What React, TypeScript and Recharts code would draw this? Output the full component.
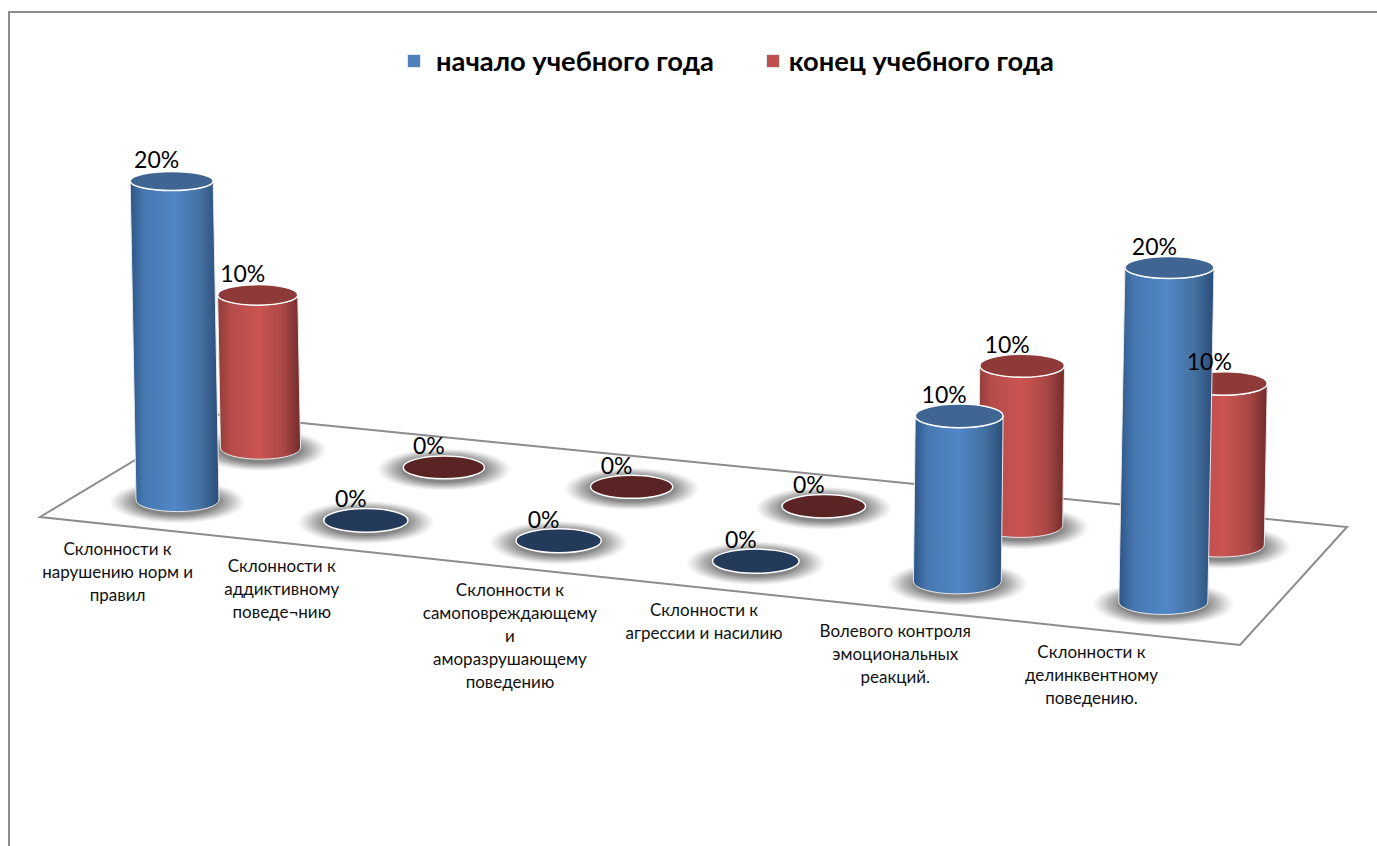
import { BarChart, Bar, XAxis, YAxis, Legend, LabelList, Customized } from "recharts";

const CATEGORIES = [
  "Склонности к\nнарушению норм и\nправил",
  "Склонности к\nаддиктивному\nповеде¬нию",
  "Склонности к\nсамоповреждающему\nи\nаморазрушающему\nповедению",
  "Склонности к\nагрессии и насилию",
  "Волевого контроля\nэмоциональных\nреакций.",
  "Склонности к\nделинквентному\nповедению.",
];
const START_VALUES = [0.2, 0, 0, 0, 0.1, 0.2];
const END_VALUES = [0.1, 0, 0, 0, 0.1, 0.1];
const START_NAME = "начало учебного года";
const END_NAME = "конец учебного года";

const chartData = CATEGORIES.map((name, i) => ({
  name,
  start: START_VALUES[i],
  end: END_VALUES[i],
}));

const FONT = "Lato, 'Open Sans', sans-serif";
const FRAME = "#8c8c8c";

const PALETTE = {
  start: { grad: "cylStart", top: "#3f6592", zero: "#243a5a", square: "#4f81bd" },
  end: { grad: "cylEnd", top: "#8e3a39", zero: "#5a2424", square: "#c0504d" },
};

type SeriesKey = "start" | "end";

// fake perspective: floor runs downhill to the right, the back row sits higher
function project(s: SeriesKey, x: number, width: number, y: number, height: number, i: number) {
  const back = s === "end";
  const baseX = x + width / 2 + 2.2 * i * (i - 5) - (back ? 5 * i : 0);
  const baseY = y + height + (back ? -52 + 19.4 * i : 20.4 * i);
  const h = height * (1 + (back ? 0.011 : 0.0097) * i) * (back ? 0.96 : 1);
  const rx = (width / 2) * (1 + 0.0146 * i) * (back ? 0.965 : 1);
  const topX = baseX + (i - 2.5) * 0.0073 * h;
  const topY = baseY - h;
  const baseRy = rx * 0.28;
  const topRy = rx * (0.28 + 0.004 * i - 0.05 * (h / 320));
  return { baseX, baseY, topX, topY, rx, baseRy, topRy };
}

function cylinder(s: SeriesKey) {
  return (props: any) => {
    const { x, y, width, height, index } = props;
    const p = project(s, x, width, y, height, index);
    const c = PALETTE[s];
    const shadow = (
      <ellipse
        cx={p.baseX}
        cy={p.baseY + 2}
        rx={p.rx + 27}
        ry={p.baseRy + 10}
        fill="url(#floorShadow)"
      />
    );
    if (height <= 0) {
      return (
        <g>
          {shadow}
          <ellipse cx={p.baseX} cy={p.baseY} rx={p.rx} ry={p.baseRy} fill={c.zero} stroke="#fff" strokeWidth={1.5} />
        </g>
      );
    }
    const d =
      `M${p.topX - p.rx} ${p.topY} L${p.baseX - p.rx} ${p.baseY} ` +
      `A${p.rx} ${p.baseRy} 0 0 0 ${p.baseX + p.rx} ${p.baseY} ` +
      `L${p.topX + p.rx} ${p.topY} A${p.rx} ${p.topRy} 0 0 1 ${p.topX - p.rx} ${p.topY} Z`;
    return (
      <g>
        {shadow}
        <path d={d} fill={`url(#${c.grad})`} stroke="#e8e8e8" strokeWidth={1} />
        <ellipse cx={p.topX} cy={p.topY} rx={p.rx} ry={p.topRy} fill={c.top} stroke="#fff" strokeWidth={1.5} />
      </g>
    );
  };
}

function percentLabel(s: SeriesKey) {
  return (props: any) => {
    const { x, y, width, height, index, value } = props;
    const p = project(s, x, width, y, height, index);
    return (
      <text
        x={p.topX - 15}
        y={p.topY - 13}
        textAnchor="middle"
        fontSize={23}
        fontFamily={FONT}
        fill="#000"
      >
        {`${Math.round(value * 100)}%`}
      </text>
    );
  };
}

// labels step down with the floor edge
const LABEL_NUDGE = [
  { dx: 5, dy: 1 },
  { dx: -28, dy: -3 },
  { dx: 3, dy: 0 },
  { dx: 0, dy: 0 },
  { dx: -6, dy: 0 },
  { dx: -7, dy: 0 },
];

function CategoryTick(props: any) {
  const { x, y, payload, index } = props;
  const i = payload.index ?? index;
  const lines = String(payload.value).split("\n");
  const n = LABEL_NUDGE[i];
  const tx = x - 106 + n.dx;
  const ty = y + 46 + 20.8 * i + n.dy;
  return (
    <text textAnchor="middle" fontSize={17} fontFamily={FONT} fill="#111">
      {lines.map((l, k) => (
        <tspan key={k} x={tx} y={ty + k * 23}>
          {l}
        </tspan>
      ))}
    </text>
  );
}

function Floor() {
  return (
    <polygon
      points="40,517 212,414 1347,527 1240,645"
      fill="#fff"
      stroke={FRAME}
      strokeWidth={2}
    />
  );
}

function LegendBox() {
  const item = { display: "flex", alignItems: "center" };
  const square = (color: string) => ({ width: 14, height: 14, background: color, border: "1px solid #dfe6ef", boxSizing: "border-box" as const });
  const label = { fontFamily: FONT, fontSize: 27.3, fontWeight: 700, color: "#000", whiteSpace: "nowrap" as const };
  return (
    <div style={{ display: "flex", position: "absolute", left: 407, top: 44 }}>
      <div style={{ ...item, marginRight: 52 }}>
        <div style={{ ...square(PALETTE.start.square), marginRight: 15 }} />
        <span style={label}>{START_NAME}</span>
      </div>
      <div style={item}>
        <div style={{ ...square(PALETTE.end.square), marginRight: 9 }} />
        <span style={label}>{END_NAME}</span>
      </div>
    </div>
  );
}

export default function App() {
  return (
    <div style={{ position: "absolute", left: 0, top: 0, width: 1377, height: 846, overflow: "hidden", background: "#fff" }}>
      <div
        style={{
          position: "absolute",
          left: 8,
          top: 11,
          right: 0,
          bottom: 0,
          borderTop: `2px solid ${FRAME}`,
          borderLeft: `2px solid ${FRAME}`,
        }}
      />
      <BarChart
        width={1377}
        height={846}
        data={chartData}
        margin={{ top: 181, left: 120, right: 74, bottom: 306 }}
        barSize={83}
        barGap={-166}
      >
        <defs>
          <linearGradient id="cylStart" x1="0" y1="0" x2="1" y2="0">
            <stop offset="0%" stopColor="#2c5485" />
            <stop offset="15%" stopColor="#4677b0" />
            <stop offset="50%" stopColor="#5186c8" />
            <stop offset="80%" stopColor="#43709f" />
            <stop offset="100%" stopColor="#2a4c78" />
          </linearGradient>
          <linearGradient id="cylEnd" x1="0" y1="0" x2="1" y2="0">
            <stop offset="0%" stopColor="#8f3b3a" />
            <stop offset="15%" stopColor="#b44c4a" />
            <stop offset="50%" stopColor="#cb5452" />
            <stop offset="80%" stopColor="#a84745" />
            <stop offset="100%" stopColor="#702c2b" />
          </linearGradient>
          <radialGradient id="floorShadow">
            <stop offset="60%" stopColor="#808080" stopOpacity={0.95} />
            <stop offset="78%" stopColor="#9a9a9a" stopOpacity={0.65} />
            <stop offset="100%" stopColor="#bbb" stopOpacity={0} />
          </radialGradient>
        </defs>
        <Customized component={Floor} />
        <XAxis dataKey="name" axisLine={false} tickLine={false} height={40} interval={0} tick={<CategoryTick />} />
        <YAxis hide domain={[0, 0.2]} />
        <Legend layout="horizontal" verticalAlign="middle" wrapperStyle={{ top: 0, left: 0, width: 0, height: 0 }} content={<LegendBox />} />
        {/* back row goes first so the front row paints over it */}
        <Bar dataKey="end" name={END_NAME} shape={cylinder("end")} isAnimationActive={false}>
          <LabelList dataKey="end" content={percentLabel("end")} />
        </Bar>
        <Bar dataKey="start" name={START_NAME} shape={cylinder("start")} isAnimationActive={false}>
          <LabelList dataKey="start" content={percentLabel("start")} />
        </Bar>
      </BarChart>
    </div>
  );
}
